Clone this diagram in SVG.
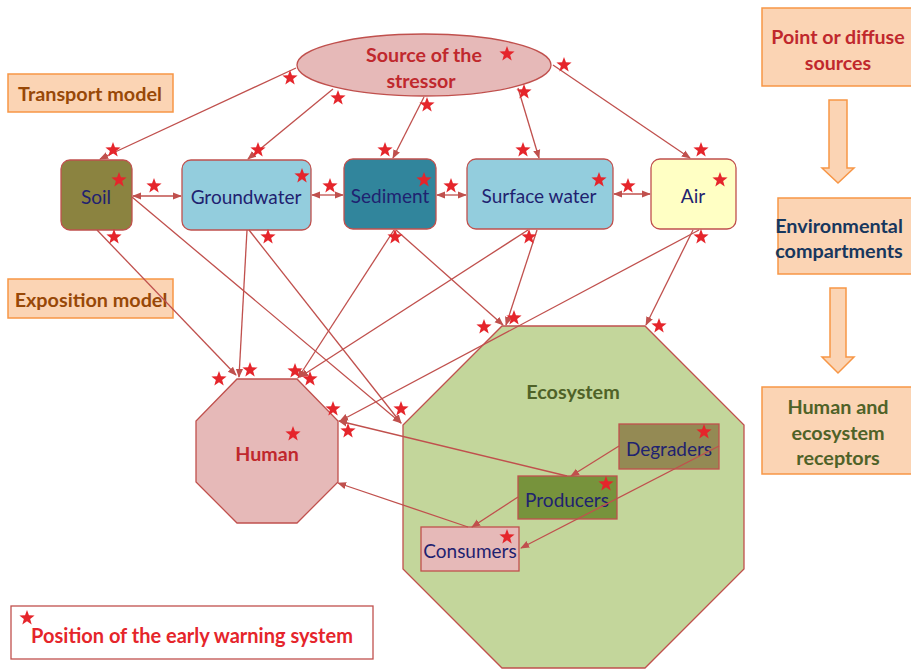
<svg xmlns="http://www.w3.org/2000/svg" xmlns:xlink="http://www.w3.org/1999/xlink" width="911" height="669" viewBox="0 0 911 669">
  <style>
    text { font-family: Lato, "Open Sans", "Liberation Sans", sans-serif; text-anchor: middle; }
    .bold { font-weight: bold; font-size: 19.8px; }
    .node-text { font-size: 19px; fill: #1F2270; }
    .red-text { fill: #C0282D; font-weight: bold; font-size: 19.6px; }
    .step { fill: #FBD4B4; stroke: #F79646; stroke-width: 1.5; }
    .edge { stroke: #C0504D; stroke-width: 1.3; fill: none; }
    .outline { stroke: #C0504D; stroke-width: 1.3; }
    .star { fill: #E5252B; }
  </style>
  <defs>
    <marker id="ah" viewBox="0 0 10 10" refX="9" refY="5" markerWidth="9" markerHeight="9" markerUnits="userSpaceOnUse" orient="auto-start-reverse">
      <path d="M0,1 L10,5 L0,9 z" fill="#C0504D"/>
    </marker>
    <path id="star" d="M0,-8 L1.94,-2.67 L7.61,-2.47 L3.14,1.02 L4.7,6.47 L0,3.3 L-4.7,6.47 L-3.14,1.02 L-7.61,-2.47 L-1.94,-2.67 z"/>
  </defs>

  <rect width="911" height="669" fill="#FFFFFF"/>

  <!-- Model labels -->
  <g id="transport-model">
    <rect class="step" x="8" y="74" width="165" height="38"/>
    <text x="90" y="101" class="bold" fill="#984807">Transport model</text>
  </g>
  <g id="exposition-model">
    <rect class="step" x="8" y="279" width="165" height="39"/>
    <text x="91" y="307" class="bold" fill="#984807">Exposition model</text>
  </g>

  <!-- Right-hand process chain -->
  <g id="point-sources">
    <rect class="step" x="762" y="8" width="160" height="78"/>
    <text x="838" y="44" class="red-text">Point or diffuse</text>
    <text x="838" y="70" class="red-text">sources</text>
  </g>
  <g id="env-compartments">
    <rect class="step" x="778" y="198" width="140" height="76"/>
    <text x="839" y="233" class="bold" fill="#17375E">Environmental</text>
    <text x="839" y="258" class="bold" fill="#17375E">compartments</text>
  </g>
  <g id="receptors">
    <rect class="step" x="762" y="387" width="160" height="87"/>
    <text x="838" y="414" class="bold" fill="#4F6228">Human and</text>
    <text x="838" y="440" class="bold" fill="#4F6228">ecosystem</text>
    <text x="838" y="465" class="bold" fill="#4F6228">receptors</text>
  </g>
  <g id="chain-arrows">
    <polygon class="step" points="829,100 847,100 847,168 854,168 838,183 822,168 829,168"/>
    <polygon class="step" points="830,288 846,288 846,357 854,357 838,373 822,357 830,357"/>
  </g>

  <!-- Source -->
  <g id="source">
    <ellipse class="outline" cx="424" cy="65" rx="127" ry="31" fill="#E6B9B8"/>
    <text x="424" y="62" class="red-text">Source of the</text>
    <text x="421" y="88" class="red-text">stressor</text>
  </g>

  <!-- Environmental compartments -->
  <g id="soil">
    <rect class="outline" x="61" y="160" width="71" height="70" rx="9" fill="#8B8340"/>
    <text x="96" y="204" class="node-text">Soil</text>
  </g>
  <g id="groundwater">
    <rect class="outline" x="182" y="160" width="129" height="70" rx="9" fill="#93CDDD"/>
    <text x="246" y="204" class="node-text">Groundwater</text>
  </g>
  <g id="sediment">
    <rect class="outline" x="344" y="159" width="92" height="70" rx="9" fill="#31859C"/>
    <text x="390" y="203" class="node-text">Sediment</text>
  </g>
  <g id="surface-water">
    <rect class="outline" x="467" y="159" width="146" height="70" rx="9" fill="#93CDDD"/>
    <text x="539" y="203" class="node-text">Surface water</text>
  </g>
  <g id="air">
    <rect class="outline" x="651" y="159" width="85" height="70" rx="9" fill="#FFFFC4"/>
    <text x="693" y="203" class="node-text">Air</text>
  </g>

  <!-- Receptors -->
  <g id="human">
    <polygon class="outline" points="237,379 297,379 338,421 338,482 297,523 237,523 196,482 196,421" fill="#E6B9B8"/>
    <text x="267" y="461" class="red-text">Human</text>
  </g>
  <g id="ecosystem">
    <polygon class="outline" points="502,326 645,326 744,425 744,569 645,668 502,668 403,569 403,425" fill="#C3D69B"/>
    <text x="573" y="399" class="bold" fill="#4F6228">Ecosystem</text>
  </g>
  <g id="degraders">
    <rect class="outline" x="619" y="424" width="100" height="45" fill="#948A54"/>
    <text x="669" y="456" class="node-text">Degraders</text>
  </g>
  <g id="producers">
    <rect class="outline" x="518" y="476" width="99" height="43" fill="#77933C"/>
    <text x="567" y="507" class="node-text">Producers</text>
  </g>
  <g id="consumers">
    <rect class="outline" x="421" y="527" width="98" height="44" fill="#E6B9B8"/>
    <text x="470" y="558" class="node-text">Consumers</text>
  </g>

  <!-- Connectors -->
  <g id="connectors" class="edge">
    <path class="edge" d="M296,68 L100,159" marker-end="url(#ah)"/>
    <path class="edge" d="M333,89 L248,159" marker-end="url(#ah)"/>
    <path class="edge" d="M424,97 L393,158" marker-end="url(#ah)"/>
    <path class="edge" d="M518,88 L539,158" marker-end="url(#ah)"/>
    <path class="edge" d="M553,65 L690,158" marker-end="url(#ah)"/>

    <path class="edge" d="M133,196 L181,196" marker-start="url(#ah)" marker-end="url(#ah)"/>
    <path class="edge" d="M312,195 L343,195" marker-start="url(#ah)" marker-end="url(#ah)"/>
    <path class="edge" d="M437,195 L466,195" marker-start="url(#ah)" marker-end="url(#ah)"/>
    <path class="edge" d="M614,194 L650,194" marker-start="url(#ah)" marker-end="url(#ah)"/>

    <path class="edge" d="M97,230 L236,375" marker-end="url(#ah)"/>
    <path class="edge" d="M132,197 L401,423" marker-end="url(#ah)"/>
    <path class="edge" d="M247,230 L239,377" marker-end="url(#ah)"/>
    <path class="edge" d="M249,230 L401,423" marker-end="url(#ah)"/>
    <path class="edge" d="M394,230 L298,378" marker-end="url(#ah)"/>
    <path class="edge" d="M396,230 L503,325" marker-end="url(#ah)"/>
    <path class="edge" d="M528,230 L300,377" marker-end="url(#ah)"/>
    <path class="edge" d="M537,230 L506,325" marker-end="url(#ah)"/>
    <path class="edge" d="M699,230 L340,421" marker-end="url(#ah)"/>
    <path class="edge" d="M693,230 L646,325" marker-end="url(#ah)"/>

    <path class="edge" d="M567,476 L339,421" marker-end="url(#ah)"/>
    <path class="edge" d="M468,527 L338,483" marker-end="url(#ah)"/>
    <path class="edge" d="M619,446 L571,476" marker-end="url(#ah)"/>
    <path class="edge" d="M518,497 L472,527" marker-end="url(#ah)"/>
    <path class="edge" d="M719,446 L521,548" marker-end="url(#ah)"/>
  </g>

  <!-- Early warning positions -->
  <g id="warning-stars" class="star">
    <use xlink:href="#star" x="290" y="78"/>
    <use xlink:href="#star" x="338" y="98"/>
    <use xlink:href="#star" x="427" y="105"/>
    <use xlink:href="#star" x="507" y="54"/>
    <use xlink:href="#star" x="564" y="65"/>
    <use xlink:href="#star" x="524" y="92"/>
    <use xlink:href="#star" x="113" y="150"/>
    <use xlink:href="#star" x="258" y="150"/>
    <use xlink:href="#star" x="385" y="150"/>
    <use xlink:href="#star" x="523" y="150"/>
    <use xlink:href="#star" x="701" y="150"/>
    <use xlink:href="#star" x="119" y="180"/>
    <use xlink:href="#star" x="302" y="176"/>
    <use xlink:href="#star" x="424" y="180"/>
    <use xlink:href="#star" x="599" y="180"/>
    <use xlink:href="#star" x="720" y="180"/>
    <use xlink:href="#star" x="154" y="186"/>
    <use xlink:href="#star" x="330" y="186"/>
    <use xlink:href="#star" x="451" y="186"/>
    <use xlink:href="#star" x="628" y="186"/>
    <use xlink:href="#star" x="114" y="237"/>
    <use xlink:href="#star" x="268" y="237"/>
    <use xlink:href="#star" x="395" y="237"/>
    <use xlink:href="#star" x="529" y="237"/>
    <use xlink:href="#star" x="701" y="237"/>
    <use xlink:href="#star" x="484" y="327"/>
    <use xlink:href="#star" x="514" y="318"/>
    <use xlink:href="#star" x="659" y="326"/>
    <use xlink:href="#star" x="219" y="379"/>
    <use xlink:href="#star" x="250" y="370"/>
    <use xlink:href="#star" x="295" y="371"/>
    <use xlink:href="#star" x="310" y="379"/>
    <use xlink:href="#star" x="333" y="409"/>
    <use xlink:href="#star" x="348" y="431"/>
    <use xlink:href="#star" x="401" y="409"/>
    <use xlink:href="#star" x="293" y="434"/>
    <use xlink:href="#star" x="704" y="432"/>
    <use xlink:href="#star" x="606" y="484"/>
    <use xlink:href="#star" x="507" y="537"/>
  </g>

  <!-- Legend -->
  <g id="legend">
    <rect x="11" y="606" width="362" height="53" fill="#FFFFFF" stroke="#C0504D" stroke-width="1.3"/>
    <use xlink:href="#star" x="27" y="618" class="star"/>
    <text x="192" y="643" font-weight="bold" font-size="20" fill="#E5252B">Position of the early warning system</text>
  </g>
</svg>
